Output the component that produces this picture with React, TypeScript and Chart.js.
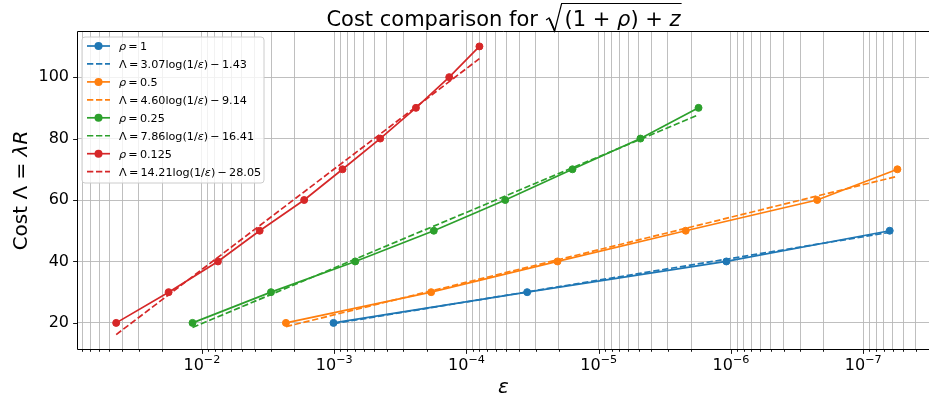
import React, { useEffect, useRef } from 'react';
import { Chart, registerables } from 'chart.js';

Chart.register(...registerables);

// ---- data ----
const rhoLabels = ['1', '0.5', '0.25', '0.125'];
const fitSlope = [3.07, 4.6, 7.86, 14.21];
const fitIntercept = [1.43, 9.14, 16.41, 28.05];

const epsRho1 = [1.012e-3, 3.475e-5, 1.084e-6, 6.31e-8];
const costRho1 = [20, 30, 40, 50];
const epsRho05 = [2.317e-3, 1.849e-4, 2.05e-5, 2.2e-6, 2.23e-7, 5.52e-8];
const costRho05 = [20, 30, 40, 50, 60, 70];
const epsRho025 = [1.178e-2, 3.006e-3, 6.93e-4, 1.766e-4, 5.09e-5, 1.58e-5, 4.84e-6, 1.76e-6];
const costRho025 = [20, 30, 40, 50, 60, 70, 80, 90];
const epsRho0125 = [4.45e-2, 1.786e-2, 7.57e-3, 3.66e-3, 1.687e-3, 8.65e-4, 4.49e-4, 2.41e-4, 1.35e-4, 7.98e-5];
const costRho0125 = [20, 30, 40, 50, 60, 70, 80, 90, 100, 110];

// fitted-line values at the first and last epsilon of each series
const fitRho1 = [19.74, 49.47];
const fitRho05 = [18.77, 67.74];
const fitRho025 = [18.5, 87.73];
const fitRho0125 = [16.19, 106.0];

const yTickValues = [20, 40, 60, 80, 100];
const xDecades = [-2, -3, -4, -5, -6, -7];

// ---- layout / style ----
const W = 929;
const H = 400;
const COLORS = ['#1f77b4', '#ff7f0e', '#2ca02c', '#d62728'];
const X_MIN = Math.pow(10, -7.497);
const X_MAX = Math.pow(10, -1.063);
const Y_MIN = 11.5;
const Y_MAX = 114.69;
const FAM = '"DejaVu Sans"';
const DASH = [6.3, 2.7];
const LW = 1.7;
const GRID = '#b8b8b8';
const TS = '\u2009'; // thin space

type Seg = { t: string; it?: boolean; size?: number; dy?: number };

function measureRich(ctx: CanvasRenderingContext2D, segs: Seg[], size: number) {
  return segs.map((s) => {
    ctx.font = `${s.it ? 'italic ' : ''}${s.size ?? size}px ${FAM}`;
    return ctx.measureText(s.t).width;
  });
}

function drawRich(
  ctx: CanvasRenderingContext2D,
  segs: Seg[],
  x: number,
  y: number,
  size: number,
  align: 'left' | 'center' | 'right' = 'left'
) {
  const widths = measureRich(ctx, segs, size);
  const total = widths.reduce((a, b) => a + b, 0);
  let cx = align === 'left' ? x : align === 'center' ? x - total / 2 : x - total;
  ctx.textAlign = 'left';
  ctx.textBaseline = 'alphabetic';
  segs.forEach((s, i) => {
    ctx.font = `${s.it ? 'italic ' : ''}${s.size ?? size}px ${FAM}`;
    ctx.fillText(s.t, cx, y + (s.dy ?? 0));
    cx += widths[i];
  });
  return total;
}

function isMajor(v: number) {
  const l = Math.log10(v);
  return Math.abs(l - Math.round(l)) < 1e-6;
}

function buildXTicks() {
  const out: { value: number; major: boolean }[] = [];
  for (let k = -9; k <= 0; k++) {
    for (let m = 1; m <= 9; m++) {
      const v = m * Math.pow(10, k);
      if (v >= X_MIN && v <= X_MAX) out.push({ value: v, major: m === 1 });
    }
  }
  return out;
}

const decorPlugin = {
  id: 'decor',
  afterDatasetsDraw(chart: any) {
    const ctx: CanvasRenderingContext2D = chart.ctx;
    const area = chart.chartArea;
    const xs = chart.scales.x;
    const ys = chart.scales.y;
    ctx.save();

    // frame (spines)
    ctx.strokeStyle = '#000';
    ctx.lineWidth = 1;
    ctx.beginPath();
    ctx.moveTo(area.right + 2, area.top - 0.5);
    ctx.lineTo(area.left - 0.5, area.top - 0.5);
    ctx.lineTo(area.left - 0.5, area.bottom + 0.5);
    ctx.lineTo(area.right + 2, area.bottom + 0.5);
    ctx.stroke();

    // tick marks x
    ctx.lineWidth = 0.9;
    xs.ticks.forEach((t: any) => {
      const px = Math.round(xs.getPixelForValue(t.value)) + 0.5;
      if (px < area.left || px > area.right) return;
      const len = isMajor(t.value) ? 4.9 : 2.8;
      ctx.beginPath();
      ctx.moveTo(px, area.bottom);
      ctx.lineTo(px, area.bottom + len);
      ctx.stroke();
    });
    // tick marks y
    ys.ticks.forEach((t: any) => {
      const py = Math.round(ys.getPixelForValue(t.value)) + 0.5;
      ctx.beginPath();
      ctx.moveTo(area.left, py);
      ctx.lineTo(area.left - 4.9, py);
      ctx.stroke();
    });

    // x tick labels 10^k
    ctx.fillStyle = '#000';
    xDecades.forEach((k) => {
      const px = xs.getPixelForValue(Math.pow(10, k));
      const segs: Seg[] = [
        { t: '10' },
        { t: '\u2212' + String(-k), size: 11.2, dy: -6.3 },
      ];
      drawRich(ctx, segs, px, 369.5, 16, 'center');
    });

    // x axis label
    drawRich(ctx, [{ t: 'ε', it: true }], (area.left + area.right) / 2, 393, 20, 'center');

    // y axis label (rotated)
    ctx.save();
    ctx.translate(27.3, (area.top + area.bottom) / 2);
    ctx.rotate(-Math.PI / 2);
    drawRich(ctx, [{ t: 'Cost Λ = ' }, { t: 'λR', it: true }], 0, 0, 20, 'center');
    ctx.restore();

    // title with radical
    const TF = 21;
    const base = 26;
    const pre: Seg[] = [{ t: 'Cost comparison for ' }];
    const inner: Seg[] = [
      { t: '(1 + ' },
      { t: 'ρ', it: true },
      { t: ') + ' },
      { t: 'z', it: true },
    ];
    const wPre = measureRich(ctx, pre, TF).reduce((a, b) => a + b, 0);
    const wIn = measureRich(ctx, inner, TF).reduce((a, b) => a + b, 0);
    const radW = 20;
    const total = wPre + radW + wIn;
    const cx = (area.left + area.right) / 2;
    const sx = cx - total / 2;
    drawRich(ctx, pre, sx, base, TF, 'left');
    const rx = sx + wPre;
    ctx.strokeStyle = '#000';
    ctx.lineWidth = 1.2;
    ctx.lineJoin = 'miter';
    ctx.beginPath();
    ctx.moveTo(rx + 1.5, base - 6);
    ctx.lineTo(rx + 4.5, base - 8);
    ctx.lineTo(rx + 10, base + 5);
    ctx.lineTo(rx + 17, 3.5);
    ctx.lineTo(rx + radW + wIn + 1, 3.5);
    ctx.stroke();
    ctx.lineWidth = 1.8;
    ctx.beginPath();
    ctx.moveTo(rx + 5, base - 7);
    ctx.lineTo(rx + 10, base + 4.5);
    ctx.stroke();
    drawRich(ctx, inner, rx + radW, base, TF, 'left');

    // legend
    const lx = 82, ly = 37, lw = 182, lh = 146;
    ctx.beginPath();
    const r = 3;
    ctx.moveTo(lx + r, ly);
    ctx.arcTo(lx + lw, ly, lx + lw, ly + lh, r);
    ctx.arcTo(lx + lw, ly + lh, lx, ly + lh, r);
    ctx.arcTo(lx, ly + lh, lx, ly, r);
    ctx.arcTo(lx, ly, lx + lw, ly, r);
    ctx.closePath();
    ctx.fillStyle = 'rgba(255,255,255,0.8)';
    ctx.fill();
    ctx.strokeStyle = '#cccccc';
    ctx.lineWidth = 1;
    ctx.stroke();

    const rowY0 = 46;
    const rowStep = 17.95;
    rhoLabels.forEach((rho, i) => {
      const c = COLORS[i];
      for (let j = 0; j < 2; j++) {
        const y = rowY0 + (i * 2 + j) * rowStep;
        ctx.strokeStyle = c;
        ctx.lineWidth = LW;
        ctx.setLineDash(j === 1 ? DASH : []);
        ctx.beginPath();
        ctx.moveTo(87, y);
        ctx.lineTo(110, y);
        ctx.stroke();
        ctx.setLineDash([]);
        if (j === 0) {
          ctx.fillStyle = c;
          ctx.beginPath();
          ctx.arc(98.5, y, 4, 0, Math.PI * 2);
          ctx.fill();
        }
        ctx.fillStyle = '#000';
        const segs: Seg[] =
          j === 0
            ? [{ t: 'ρ', it: true }, { t: TS + '=' + TS + rho }]
            : [
                { t: 'Λ' + TS + '=' + TS + fitSlope[i].toFixed(2) + 'log(1/' },
                { t: 'ε', it: true },
                { t: ')' + TS + '\u2212' + TS + fitIntercept[i].toFixed(2) },
              ];
        drawRich(ctx, segs, 119, y + 4, 11.2, 'left');
      }
    });

    ctx.restore();
  },
};

export default function App() {
  const ref = useRef<HTMLCanvasElement | null>(null);

  useEffect(() => {
    if (!ref.current) return;
    const series = [
      { eps: epsRho1, cost: costRho1, fit: fitRho1 },
      { eps: epsRho05, cost: costRho05, fit: fitRho05 },
      { eps: epsRho025, cost: costRho025, fit: fitRho025 },
      { eps: epsRho0125, cost: costRho0125, fit: fitRho0125 },
    ];
    const datasets: any[] = [];
    series.forEach((s, i) => {
      const c = COLORS[i];
      datasets.push({
        label: 'rho = ' + rhoLabels[i],
        data: s.eps.map((e, j) => ({ x: e, y: s.cost[j] })),
        borderColor: c,
        backgroundColor: c,
        pointBackgroundColor: c,
        pointBorderColor: c,
        borderWidth: LW,
        pointRadius: 3.5,
        pointBorderWidth: 1,
        pointHoverRadius: 3.5,
        tension: 0,
        fill: false,
      });
      datasets.push({
        label: 'fit ' + rhoLabels[i],
        data: [
          { x: s.eps[0], y: s.fit[0] },
          { x: s.eps[s.eps.length - 1], y: s.fit[1] },
        ],
        borderColor: c,
        backgroundColor: c,
        borderWidth: LW,
        borderDash: DASH,
        pointRadius: 0,
        pointHoverRadius: 0,
        tension: 0,
        fill: false,
      });
    });
    datasets.forEach((d, k) => (d.order = datasets.length - k));

    const chart = new Chart(ref.current, {
      type: 'line',
      data: { datasets },
      options: {
        animation: false,
        responsive: false,
        devicePixelRatio: 1,
        events: [],
        layout: { autoPadding: false, padding: { top: 32, left: 0, right: 0, bottom: 0 } },
        plugins: {
          legend: { display: false },
          title: { display: false },
          tooltip: { enabled: false },
        },
        scales: {
          x: {
            type: 'logarithmic',
            reverse: true,
            min: X_MIN,
            max: X_MAX,
            bounds: 'data',
            afterBuildTicks: (scale: any) => {
              scale.ticks = buildXTicks();
            },
            afterFit: (scale: any) => {
              scale.height = 51;
            },
            ticks: { display: false, autoSkip: false },
            grid: { color: GRID, lineWidth: 0.9, drawTicks: false },
            border: { display: false },
          },
          y: {
            type: 'linear',
            min: Y_MIN,
            max: Y_MAX,
            afterBuildTicks: (scale: any) => {
              scale.ticks = yTickValues.map((v) => ({ value: v }));
            },
            afterFit: (scale: any) => {
              scale.width = 78;
            },
            ticks: {
              color: '#000',
              padding: 9,
              font: { family: 'DejaVu Sans', size: 16 },
            },
            grid: { color: GRID, lineWidth: 0.9, drawTicks: false },
            border: { display: false },
          },
        },
      },
      plugins: [decorPlugin],
    } as any);
    return () => chart.destroy();
  }, []);

  return (
    <div style={{ position: 'absolute', left: 0, top: 0, width: W, height: H, background: '#fff' }}>
      <canvas ref={ref} width={W} height={H} style={{ display: 'block' }} />
    </div>
  );
}
